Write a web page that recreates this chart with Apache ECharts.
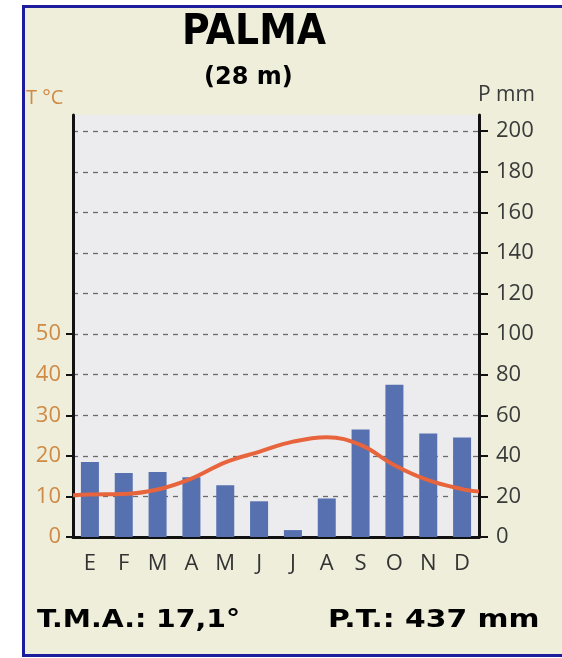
<!DOCTYPE html>
<html>
<head>
<meta charset="utf-8">
<script src="https://cdn.jsdelivr.net/npm/echarts@6/dist/echarts.min.js"></script>
<style>html,body{margin:0;padding:0;background:#fff}#c{width:562px;height:658px}</style>
</head>
<body>
<div id="c"></div>
<script>
var months = ['E','F','M','A','M','J','J','A','S','O','N','D'];
var precip = [37, 31.5, 32, 29.5, 25.5, 17.6, 3.4, 19, 53, 75, 51, 49];
var temp = [10.5, 10.6, 11.7, 14.4, 18.4, 21, 23.5, 24.6, 22.7, 17.7, 14, 11.8];
var tempStart = 10.3, tempEnd = 11.2;
var tempTicks = [0, 10, 20, 30, 40, 50];
var precipTicks = [0, 20, 40, 60, 80, 100, 120, 140, 160, 180, 200];
var title = 'PALMA', subtitle = '(28 m)';
var footLeft = 'T.M.A.: 17,1°', footRight = 'P.T.: 437 mm';

var lineData = [[0, tempStart]];
temp.forEach(function (t, i) { lineData.push([i + 0.5, t]); });
lineData.push([12, tempEnd]);

var chart = echarts.init(document.getElementById('c'));
var titleFont = '"DejaVu Sans Condensed","DejaVu Sans",sans-serif';
var labFont = '"Open Sans","DejaVu Sans",sans-serif';
chart.setOption({
  backgroundColor: '#ffffff',
  animation: false,
  graphic: [
    {type: 'rect', z: -10, shape: {x: 23.5, y: 6.5, width: 560, height: 649}, style: {fill: '#eeeedb', stroke: '#1c1c9c', lineWidth: 3}},
    {type: 'text', x: 182, y: 12, style: {text: title, font: 'bold 42px ' + titleFont, fill: '#000'}},
    {type: 'text', x: 204, y: 66, style: {text: subtitle, font: 'bold 24px "DejaVu Sans",sans-serif', fill: '#000'}},
    {type: 'text', x: 26, y: 88, style: {text: 'T °C', font: '20px ' + labFont, fill: '#cf8a45'}},
    {type: 'text', x: 478, y: 85, style: {text: 'P mm', font: '21px ' + labFont, fill: '#3a3a3a'}},
    {type: 'text', x: 37, y: 609, scaleX: 1.18, style: {text: footLeft, font: 'bold 24px "DejaVu Sans",sans-serif', fill: '#000'}},
    {type: 'text', x: 328, y: 609, scaleX: 1.24, style: {text: footRight, font: 'bold 24px "DejaVu Sans",sans-serif', fill: '#000'}}
  ],
  grid: {left: 73, right: 83, top: 115, bottom: 121, show: true, backgroundColor: '#ececee', borderWidth: 0},
  xAxis: [
    {type: 'category', data: months, boundaryGap: true,
     axisLine: {lineStyle: {color: '#111', width: 3}},
     axisTick: {alignWithLabel: true, length: 7, lineStyle: {color: '#111', width: 2}},
     axisLabel: {color: '#333', fontSize: 22, margin: 16, fontFamily: labFont},
     splitLine: {show: false}},
    {type: 'value', min: 0, max: 12, show: false}
  ],
  yAxis: [
    {type: 'value', position: 'left', min: 0, max: 104, interval: 10,
     axisLine: {show: true, lineStyle: {color: '#111', width: 3}},
     axisTick: {show: true, length: 7, customValues: tempTicks, lineStyle: {color: '#111', width: 2}},
     axisLabel: {color: '#cf8a45', fontSize: 22, margin: 12, customValues: tempTicks, fontFamily: labFont},
     splitLine: {show: false}},
    {type: 'value', position: 'right', min: 0, max: 208, interval: 20,
     axisLine: {show: true, lineStyle: {color: '#111', width: 3}},
     axisTick: {show: true, length: 9, customValues: precipTicks, lineStyle: {color: '#111', width: 2}},
     axisLabel: {color: '#3a3a3a', fontSize: 22, margin: 17, customValues: precipTicks, fontFamily: labFont},
     splitLine: {show: true, lineStyle: {color: '#6a6a6a', width: 1.3, type: [5, 5]}}}
  ],
  series: [
    {type: 'bar', data: precip, xAxisIndex: 0, yAxisIndex: 1, barWidth: 18,
     itemStyle: {color: '#5670b0'}, z: 2},
    {type: 'line', data: lineData, xAxisIndex: 1, yAxisIndex: 0, smooth: 0.4, symbol: 'none',
     lineStyle: {color: '#e8643c', width: 4}, z: 3}
  ]
});
</script>
</body>
</html>
